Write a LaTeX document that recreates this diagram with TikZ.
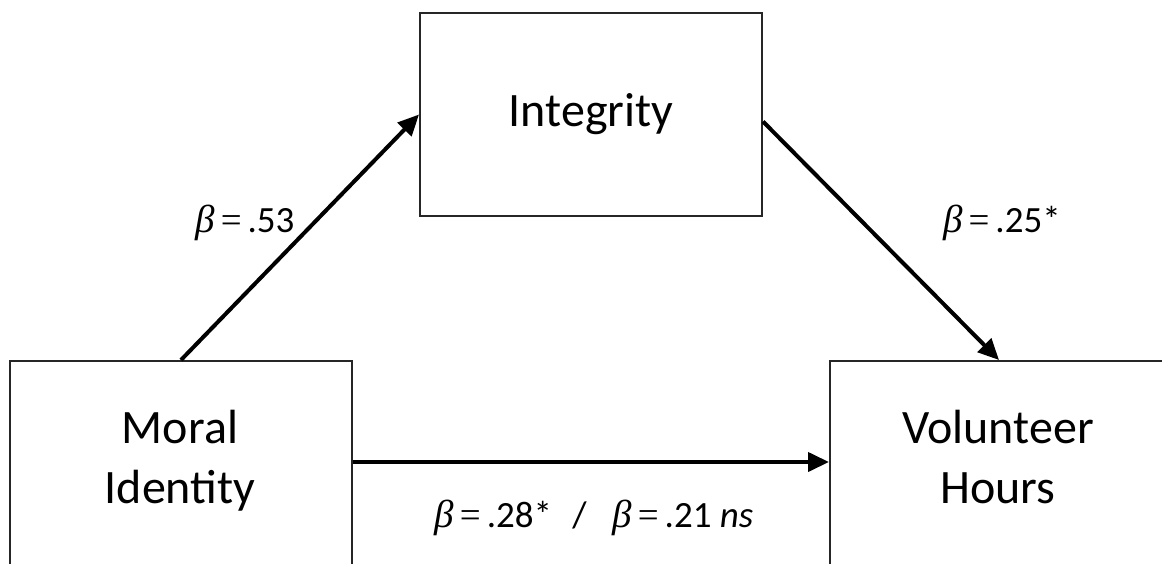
\documentclass[tikz,border=0pt]{standalone}
\usepackage{fontspec}
\setmainfont{Carlito}
\newfontfamily\greekf{Liberation Serif}
\usetikzlibrary{arrows.meta}
\newcommand{\bet}{{\fontsize{39}{40}\selectfont\greekf\itshape β}}
\newcommand{\eqs}{\hspace{0.16em}{\greekf=}\hspace{0.16em}}
\tikzset{
  box/.style={draw=black!85, line width=2pt, rectangle, inner sep=0pt,
    font=\fontsize{48}{60}\selectfont},
  boxtext/.style={align=center, inner sep=0pt, font=\fontsize{48}{60}\selectfont},
  coef/.style={anchor=base, inner sep=0pt, font=\fontsize{37}{40}\selectfont},
  path/.style={line width=4pt, -{Triangle[length=21pt,width=19pt]}}
}
\begin{document}
\begin{tikzpicture}[x=1pt,y=-1pt]
\useasboundingbox (0,0) rectangle (1162,563);
\clip (0,0) rectangle (1162,563);
\fill[white] (0,0) rectangle (1162,563);
\node[box, minimum width=342pt, minimum height=240pt, anchor=north west] (moral) at (9,360) {};
\node[box, minimum width=338pt, minimum height=240pt, anchor=north west] (vol) at (829,360) {};
\node[box, minimum width=342pt, minimum height=203pt, anchor=north west] (integ) at (419,12) {Integrity};
\node[boxtext] (moraltxt) at (180,461) {Moral\\Identity};
\node[boxtext] (voltxt) at (998,461) {Volunteer\\Hours\vphantom{y}};
\draw[path] (moral.north) -- (integ.west);
\draw[path] ([yshift=-7pt]integ.east) -- (vol.north);
\draw[path] ([yshift=-102pt]moral.north east) -- ([yshift=-102pt]vol.north west);
\node[coef] (c1) at (245,232) {\bet\eqs.53};
\node[coef] (c2) at (1002,232) {\bet\eqs.25*};
\node[coef] (c3) at (594,527) {\bet\eqs.28*\hspace{0.55em}/\hspace{0.7em}\bet\eqs.21 \textit{ns}};
\end{tikzpicture}
\end{document}
